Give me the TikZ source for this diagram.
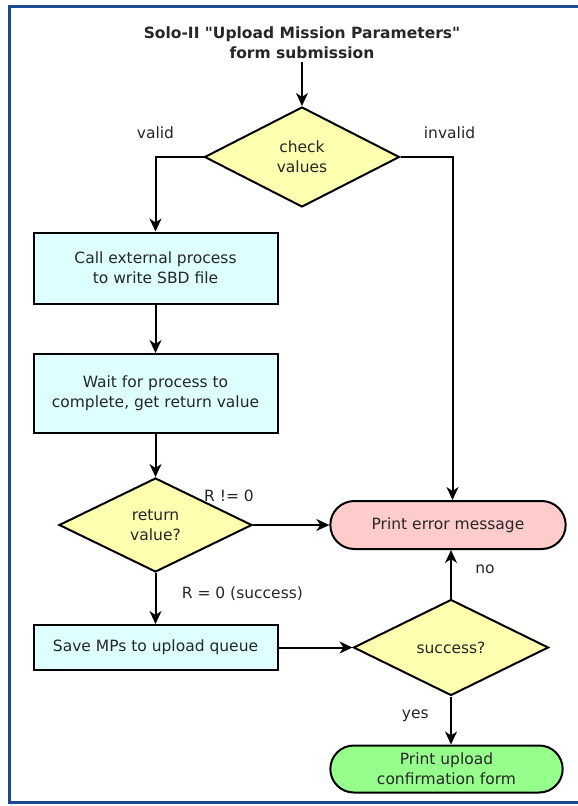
\documentclass[tikz,border=0pt]{standalone}
\usepackage{fontspec}
\setmainfont{DejaVu Sans}
\usepackage{tikz}
\usetikzlibrary{shapes,arrows.meta,positioning,calc}
\usepackage{xcolor}
\definecolor{decfill}{RGB}{255,255,176}
\definecolor{procfill}{RGB}{222,255,255}
\definecolor{errfill}{RGB}{255,204,204}
\definecolor{okfill}{RGB}{150,255,140}
\definecolor{framecol}{RGB}{24,74,150}
\tikzstyle{process} = [rectangle, minimum width=244pt, align=center, draw=black, line width=2pt, fill=procfill]
\tikzstyle{decision} = [diamond, inner sep=0pt, align=center, draw=black, line width=2pt, fill=decfill]
\tikzstyle{errstop} = [rounded rectangle, minimum width=242pt, minimum height=48pt, align=center, draw=black, line width=2pt, fill=errfill]
\tikzstyle{okstop} = [rounded rectangle, minimum width=239pt, minimum height=47pt, align=center, draw=black, line width=2pt, fill=okfill]
\tikzstyle{arrow} = [line width=2pt, ->, >={Stealth[length=13pt, width=12pt, inset=4pt]}]
\tikzstyle{frame} = [draw=framecol, line width=3pt]

\begin{document}
\begin{tikzpicture}[x=1pt, y=-1pt, font=\fontsize{15.5}{20}\selectfont, text=black!85]
    \useasboundingbox (0,0) rectangle (578,806);
    % Frame
    \draw [frame] (578,802) -- (9.5,802) -- (9.5,6.5) -- (578,6.5);

    % Nodes
    \node (title) [align=center, font=\bfseries\fontsize{15.5}{19.5}\selectfont] at (302,42.5) {Solo-II \textquotedbl Upload Mission Parameters\textquotedbl\\form submission};
    \node (check) [decision, node distance=114.5pt, below of=title, minimum width=195pt, minimum height=100pt] {check\\values};
    \node (call) [process, node distance=111pt, below of=check, xshift=-146.5pt, minimum height=71pt] {Call external process\\to write SBD file};
    \node (wait) [process, node distance=125.5pt, below of=call, minimum height=79pt] {Wait for process to\\complete, get return value};
    \node (ret) [decision, node distance=131.5pt, below of=wait, minimum width=193pt, minimum height=94pt] {return\\value?};
    \node (save) [process, node distance=122.5pt, below of=ret, minimum height=45pt] {Save MPs to upload queue};
    \node (err) [errstop, node distance=292.5pt, right of=ret] {Print error message};
    \node (succ) [decision, node distance=295.5pt, right of=save, minimum width=195pt, minimum height=96pt] {success?};
    \node (ok) [okstop, node distance=121.5pt, below of=succ, xshift=-4.5pt] {Print upload\\confirmation form};

    % Arrows
    \draw [arrow] (title) -- (check);
    \draw [arrow] (check.west) -| node[pos=0.5, yshift=24pt] {valid} (call.north);
    \draw [arrow] (check.east) -| node[pos=0.5, yshift=24pt, xshift=-3pt] {invalid} ([xshift=4.5pt]err.north);
    \draw [arrow] (call) -- (wait);
    \draw [arrow] (wait) -- (ret);
    \draw [arrow] (ret) -- node[pos=0, xshift=-24pt, yshift=29pt] {R != 0} (err);
    \draw [arrow] (ret) -- node[pos=0.4, anchor=west, xshift=22pt] {R = 0 (success)} (save);
    \draw [arrow] (save) -- (succ);
    \draw [arrow] (succ.north) -- node[pos=0.6, anchor=west, xshift=20pt] {no} (succ.north |- err.south);
    \draw [arrow] (succ.south) -- node[pos=0.4, anchor=east, xshift=-18pt] {yes} (succ.south |- ok.north);
\end{tikzpicture}
\end{document}
